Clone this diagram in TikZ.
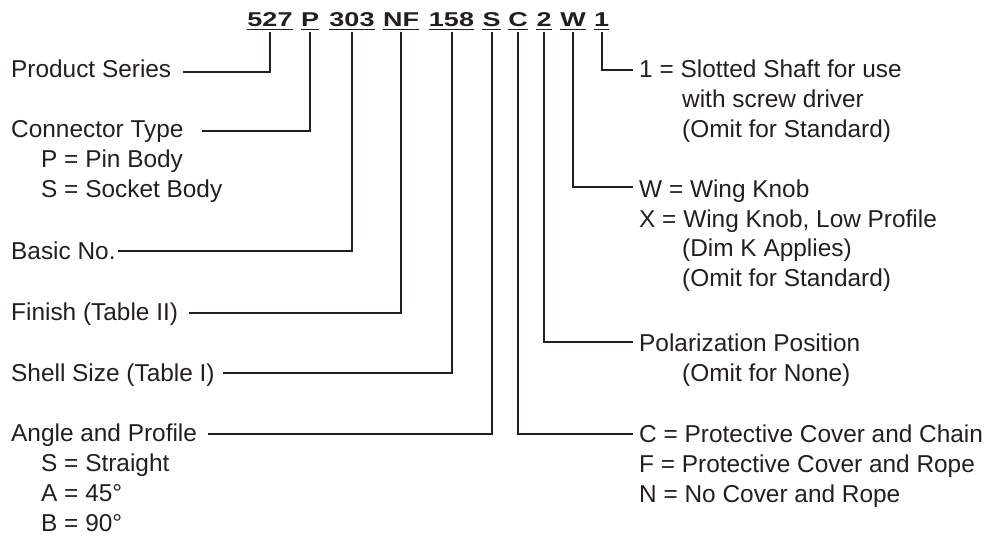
\documentclass[tikz,border=0pt]{standalone}
\usepackage{fontspec}
\setmainfont{Liberation Sans}
\usepackage{graphicx}
\definecolor{ink}{HTML}{231F20}
\newcommand{\wide}[1]{\scalebox{1.35}[1]{#1}}
\begin{document}
\begin{tikzpicture}[x=1pt,y=-1pt,
  lbl/.style={anchor=base west, inner sep=0pt, text=ink, font=\fontsize{24.4}{29.7}\selectfont},
  code/.style={anchor=base, inner sep=0pt, text=ink, font=\fontsize{20}{24}\selectfont\bfseries},
  lead/.style={draw=ink, line width=2pt},
  uline/.style={draw=ink, line width=1.6pt}]
\useasboundingbox (0,0) rectangle (992,538);

% part number
\foreach \n/\x/\t in {c527/270/527, cP/310/P, c303/352/303, cNF/401/NF, c158/451.5/158,
                      cS/491.5/S, cC/518/C, c2/544/2, cW/573/W, c1/601.5/1}{
  \node[code] (\n) at (\x,26.7) {\wide{\t}};
  \draw[uline] ([yshift=-2.8pt]\n.base west) -- ([yshift=-2.8pt]\n.base east);
}

% left labels
\node[lbl] (ps)  at (11,77.5)  {Product Series};
\node[lbl] (ct)  at (11,137.5) {Connector Type};
\node[lbl] (ctp) at (41,167.5) {P = Pin Body};
\node[lbl] (cts) at (41,197)   {S = Socket Body};
\node[lbl] (bn)  at (11,259)   {Basic No.};
\node[lbl] (fi)  at (11,320.5) {Finish (Table II)};
\node[lbl] (ss)  at (11,381)   {Shell Size (Table I)};
\node[lbl] (ap)  at (11,441)   {Angle and Profile};
\node[lbl] (aps) at (41,471)   {S = Straight};
\node[lbl] (apa) at (41,501)   {A = 45°};
\node[lbl] (apb) at (41,531)   {B = 90°};

% right labels
\node[lbl] (r1a) at (639,77)    {1 = Slotted Shaft for use};
\node[lbl] (r1b) at (682,107)   {with screw driver};
\node[lbl] (r1c) at (682,137)   {(Omit for Standard)};
\node[lbl] (rwa) at (639,197)   {W = Wing Knob};
\node[lbl] (rwb) at (639,227)   {X = Wing Knob, Low Profile};
\node[lbl] (rwc) at (682,256.5) {(Dim K Applies)};
\node[lbl] (rwd) at (682,286)   {(Omit for Standard)};
\node[lbl] (rpa) at (639,351)   {Polarization Position};
\node[lbl] (rpb) at (682,381)   {(Omit for None)};
\node[lbl] (rca) at (639,442)   {C = Protective Cover and Chain};
\node[lbl] (rcb) at (639,472)   {F = Protective Cover and Rope};
\node[lbl] (rcc) at (639,502)   {N = No Cover and Rope};

% leader ends
\coordinate (eps) at (183,72);
\coordinate (ect) at (202,131);
\coordinate (ebn) at (118,251);
\coordinate (efi) at (189,313);
\coordinate (ess) at (223,373);
\coordinate (eap) at (208,434);
\coordinate (e1)  at (633,69.5);
\coordinate (eW)  at (633,187);
\coordinate (e2)  at (633,342);
\coordinate (eC)  at (633,434);

% leaders
\draw[lead] ([yshift=-5.3pt]c527.base) |- (eps);
\draw[lead] ([yshift=-5.3pt]cP.base)   |- (ect);
\draw[lead] ([yshift=-5.3pt]c303.base) |- (ebn);
\draw[lead] ([yshift=-5.3pt]cNF.base)  |- (efi);
\draw[lead] ([yshift=-5.3pt]c158.base) |- (ess);
\draw[lead] ([yshift=-5.3pt]cS.base)   |- (eap);
\draw[lead] ([yshift=-5.3pt]cC.base)   |- (eC);
\draw[lead] ([yshift=-5.3pt]c2.base)   |- (e2);
\draw[lead] ([yshift=-5.3pt]cW.base)   |- (eW);
\draw[lead] ([yshift=-5.3pt]c1.base)   |- (e1);
\end{tikzpicture}
\end{document}
